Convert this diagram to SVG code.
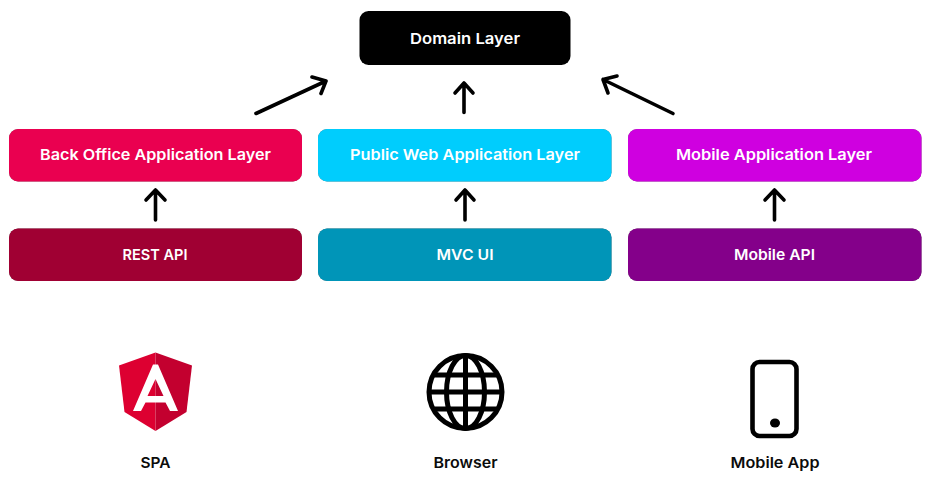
<svg xmlns="http://www.w3.org/2000/svg" width="936" height="489" viewBox="0 0 936 489">
<style>
text{font-family:"Inter","Noto Sans",sans-serif;font-weight:600;font-size:15px;text-anchor:middle}
.w{fill:#fff}
.k{fill:#0b0b0b}
.box{filter:drop-shadow(0.4px 0.6px 0.3px rgba(0,0,0,.55))}
.a{fill:none;stroke:#000;stroke-width:3.6;stroke-linecap:round;stroke-linejoin:round}
</style>
<rect width="936" height="489" fill="#fff"/>
<g id="domain"><rect x="359.500" y="11" width="211" height="54" rx="9" fill="#000"/><text class="w" x="465" y="43.500" textLength="110" lengthAdjust="spacingAndGlyphs">Domain Layer</text></g>
<g id="back-office"><rect class="box" x="9" y="129" width="293" height="52.500" rx="9" fill="#ea0050"/><text class="w" x="155.500" y="160" textLength="231" lengthAdjust="spacingAndGlyphs">Back Office Application Layer</text></g>
<g id="public-web"><rect class="box" x="318" y="129" width="293.500" height="52.500" rx="9" fill="#00cdfd"/><text class="w" x="465" y="160" textLength="230" lengthAdjust="spacingAndGlyphs">Public Web Application Layer</text></g>
<g id="mobile-layer"><rect class="box" x="628" y="129" width="293.500" height="52.500" rx="9" fill="#cf00e0"/><text class="w" x="774" y="160" textLength="196" lengthAdjust="spacingAndGlyphs">Mobile Application Layer</text></g>
<g id="rest-api"><rect class="box" x="9" y="228.500" width="293" height="52.500" rx="9" fill="#a00033"/><text class="w" x="155" y="260" textLength="65" lengthAdjust="spacingAndGlyphs">REST API</text></g>
<g id="mvc-ui"><rect class="box" x="318" y="228.500" width="293.500" height="52.500" rx="9" fill="#0095b8"/><text class="w" x="465" y="260" textLength="57" lengthAdjust="spacingAndGlyphs">MVC UI</text></g>
<g id="mobile-api"><rect class="box" x="628" y="228.500" width="293.500" height="52.500" rx="9" fill="#84008a"/><text class="w" x="774.500" y="260" textLength="81" lengthAdjust="spacingAndGlyphs">Mobile API</text></g>
<g id="connectors">
<path class="a" d="M256 113.500L326 81M312 77L326 81L321 93.500"/>
<path class="a" d="M464 112.500V83M455 93L464 83L473 93"/>
<path class="a" d="M673 113.500L603 79.500M608 93L603 79.500L617 76"/>
<path class="a" d="M155.500 220V190M146 200L155.500 190L165 200"/>
<path class="a" d="M465 220V190M456 200L465 190L474 200"/>
<path class="a" d="M774.500 220V190M765 200L774.500 190L784 200"/>
</g>
<g id="spa">
<path d="M155.500 352.500L119 365.500L124.500 412L155.500 431Z" fill="#dd0031"/>
<path d="M155.500 352.500L192 365.500L186.500 412L155.500 431Z" fill="#c3002f"/>
<path d="M153 364.500H158L178 411H170L165.500 402.500H145.500L141 411H133ZM155.500 379L147.500 396H163.500Z" fill="#fff" fill-rule="evenodd"/>
<text class="k" x="155.500" y="468" textLength="30" lengthAdjust="spacingAndGlyphs">SPA</text>
</g>
<g id="browser">
<g fill="none" stroke="#000" stroke-width="5">
<circle cx="465.500" cy="392" r="36.500"/>
<ellipse cx="465.500" cy="392" rx="19" ry="36.500"/>
<path d="M465.500 355.500V428.500M429 392H502M435 375H496M435 409H496"/>
</g>
<text class="k" x="465.500" y="468" textLength="64" lengthAdjust="spacingAndGlyphs">Browser</text>
</g>
<g id="mobile-app">
<rect x="752.500" y="362" width="44" height="74" rx="7" fill="none" stroke="#000" stroke-width="4.600"/>
<ellipse cx="775" cy="423" rx="5" ry="4.500" fill="#000"/>
<text class="k" x="775" y="468" textLength="89" lengthAdjust="spacingAndGlyphs">Mobile App</text>
</g>
</svg>
